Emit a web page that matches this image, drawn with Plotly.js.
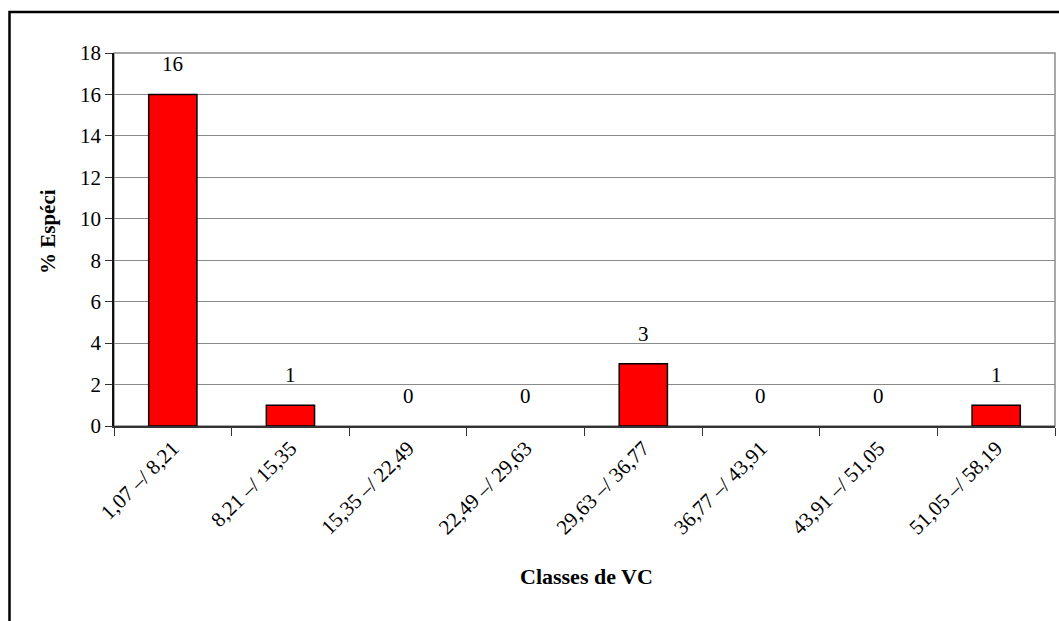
<!DOCTYPE html>
<html>
<head>
<meta charset="utf-8">
<script src="https://cdn.plot.ly/plotly-3.0.1.min.js"></script>
<style>html,body{margin:0;padding:0;background:#fff;}#chart{width:1059px;height:621px;}</style>
</head>
<body>
<div id="chart"></div>
<script>
const categories = ["1,07 –/ 8,21", "8,21 –/ 15,35", "15,35 –/ 22,49", "22,49 –/ 29,63", "29,63 –/ 36,77", "36,77 –/ 43,91", "43,91 –/ 51,05", "51,05 –/ 58,19"];
const values = [16, 1, 0, 0, 3, 0, 0, 1];
const yTicks = [0, 2, 4, 6, 8, 10, 12, 14, 16, 18];
const xTitle = "Classes de VC";
const yTitle = "% Espéci";

const FAM = "Liberation Serif";

const trace = {
  type: "bar",
  x: categories,
  y: values,
  marker: {color: "#FF0000", line: {color: "#000000", width: values.map(v => v > 0 ? 1.5 : 0)}},
  hoverinfo: "none"
};

const labelAnn = categories.map((c, i) => ({
  x: c, y: values[i], xref: "x", yref: "y",
  text: String(values[i]), showarrow: false,
  yanchor: "middle", yshift: 30,
  font: {family: FAM, size: 21, color: "#000000"}
}));

const layout = {
  width: 1059, height: 621,
  margin: {l: 114, r: 4, t: 53, b: 195},
  paper_bgcolor: "#ffffff", plot_bgcolor: "#ffffff",
  showlegend: false,
  bargap: 0.59,
  font: {family: FAM, size: 21, color: "#000000"},
  xaxis: {
    type: "category",
    tickangle: -45,
    ticks: "outside", tickson: "boundaries", ticklen: 8, tickcolor: "#333333", tickwidth: 1,
    showline: true, linecolor: "#333333", linewidth: 1.5,
    showgrid: false, zeroline: false,
    tickfont: {family: FAM, size: 21, color: "#000000"}
  },
  yaxis: {
    range: [0, 18],
    tickvals: yTicks, ticktext: yTicks.map(String),
    ticks: "outside", ticklen: 7, tickcolor: "#333333",
    showline: true, linecolor: "#111111", linewidth: 1.5,
    showgrid: true, gridcolor: "#8a8a8a", gridwidth: 1.3,
    zeroline: false,
    tickfont: {family: FAM, size: 21, color: "#000000"}
  },
  shapes: [
    {type: "rect", xref: "paper", yref: "paper", x0: 0, x1: 1, y0: 0, y1: 1,
     line: {color: "#8a8a8a", width: 1.5}, layer: "below"},
    {type: "rect", xref: "paper", yref: "paper",
     x0: (9.5 - 114) / 941, x1: 1.05, y0: -0.6, y1: 1 + (53 - 12) / 373,
     line: {color: "#000000", width: 2.5}, layer: "above"}
  ],
  annotations: labelAnn.concat([
    {xref: "paper", yref: "paper", x: (586 - 114) / 941, y: (426 - 576) / 373, text: "<b>" + xTitle + "</b>",
     showarrow: false, xanchor: "center", yanchor: "middle",
     font: {family: FAM, size: 22, color: "#000000"}},
    {xref: "paper", yref: "paper", x: (48 - 114) / 941, y: (426 - 232) / 373, text: "<b>" + yTitle + "</b>",
     showarrow: false, textangle: -90, xanchor: "center", yanchor: "middle",
     font: {family: FAM, size: 21, color: "#000000"}}
  ])
};

Plotly.newPlot("chart", [trace], layout, {displayModeBar: false});
</script>
</body>
</html>
